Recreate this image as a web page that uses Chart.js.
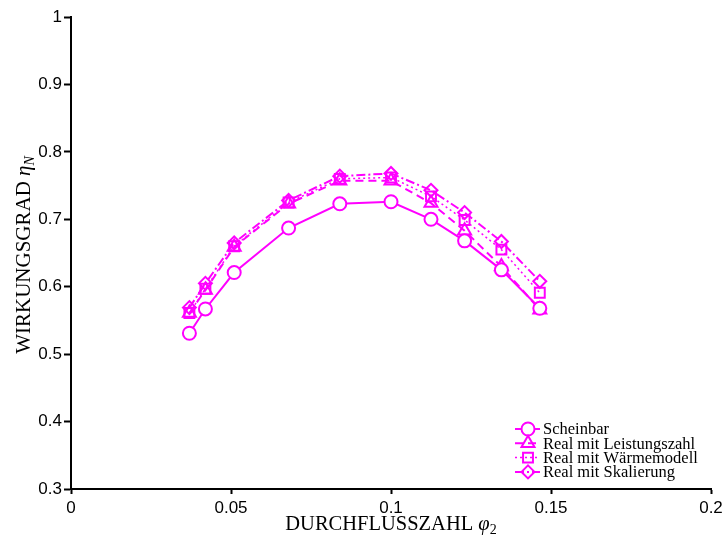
<!DOCTYPE html>
<html>
<head>
<meta charset="utf-8">
<script src="https://cdn.jsdelivr.net/npm/chart.js@4.4.1/dist/chart.umd.min.js"></script>
<style>
  html, body { margin: 0; padding: 0; background: #fff; }
</style>
</head>
<body>
<canvas id="chart" width="728" height="539"></canvas>
<script>
// Durchflusszahl phi_2 (shared by all four curves)
const PHI = [0.037, 0.042, 0.051, 0.068, 0.084, 0.1, 0.1125, 0.123, 0.1345, 0.1465];

// Wirkungsgrad eta_N
const SCHEINBAR     = [0.531, 0.567, 0.621, 0.687, 0.723, 0.726, 0.700, 0.668, 0.625, 0.568];
const LEISTUNGSZAHL = [0.561, 0.595, 0.659, 0.723, 0.757, 0.757, 0.724, 0.683, 0.630, 0.566];
const WAERMEMODELL  = [0.561, 0.597, 0.660, 0.725, 0.760, 0.762, 0.734, 0.699, 0.655, 0.591];
const SKALIERUNG    = [0.569, 0.605, 0.665, 0.728, 0.764, 0.768, 0.743, 0.710, 0.667, 0.608];

const SERIES_LABELS = ['Scheinbar', 'Real mit Leistungszahl', 'Real mit Wärmemodell', 'Real mit Skalierung'];

const X_TICKS = [0, 0.05, 0.1, 0.15, 0.2];
const Y_TICKS = [0.3, 0.4, 0.5, 0.6, 0.7, 0.8, 0.9, 1];

const MAGENTA = '#ff00ff';
const SERIF = '"Liberation Serif", "Times New Roman", serif';
const SANS = '"Liberation Sans", Arial, sans-serif';

const toPoints = (ys) => PHI.map((x, i) => ({ x, y: ys[i] }));

// per-series look: line dash, marker
const STYLES = [
  { dash: [],           width: 2,   point: 'circle',   radius: 6.5, fill: '#fff' },
  { dash: [8, 5],       width: 2,   point: 'triangle', radius: 7.5, fill: 'rgba(0,0,0,0)' },
  { dash: [2, 3],       width: 1.5, point: 'rect',     radius: 7,   fill: 'rgba(0,0,0,0)' },
  { dash: [9, 3, 2, 3], width: 2,   point: 'rectRot',  radius: 6.5, fill: 'rgba(0,0,0,0)' },
];

const datasets = [SCHEINBAR, LEISTUNGSZAHL, WAERMEMODELL, SKALIERUNG].map((ys, i) => ({
  label: SERIES_LABELS[i],
  data: toPoints(ys),
  borderColor: MAGENTA,
  borderWidth: STYLES[i].width,
  borderDash: STYLES[i].dash,
  pointStyle: STYLES[i].point,
  pointRadius: STYLES[i].radius,
  pointBorderWidth: 2,
  pointBorderColor: MAGENTA,
  pointBackgroundColor: STYLES[i].fill,
  tension: 0,
  fill: false,
}));

// same shapes as chart.js uses, for the hand drawn legend
function drawMarker(ctx, style, x, y, r) {
  ctx.beginPath();
  if (style === 'circle') {
    ctx.arc(x, y, r, 0, Math.PI * 2);
  } else if (style === 'triangle') {
    const a = -Math.PI / 2;
    ctx.moveTo(x + Math.cos(a) * r, y + Math.sin(a) * r);
    ctx.lineTo(x + Math.cos(a + 2.0944) * r, y + Math.sin(a + 2.0944) * r);
    ctx.lineTo(x + Math.cos(a + 4.1888) * r, y + Math.sin(a + 4.1888) * r);
    ctx.closePath();
  } else if (style === 'rect') {
    const s = r * Math.SQRT1_2;
    ctx.rect(x - s, y - s, 2 * s, 2 * s);
  } else if (style === 'rectRot') {
    ctx.moveTo(x, y - r); ctx.lineTo(x + r, y); ctx.lineTo(x, y + r); ctx.lineTo(x - r, y);
    ctx.closePath();
  }
}

// text runs (plain, italic symbol, subscript) drawn left to right
function drawRuns(ctx, runs, x, y) {
  let cx = x;
  for (const r of runs) {
    ctx.font = r.font;
    ctx.fillText(r.t, cx, y + (r.dy || 0));
    cx += ctx.measureText(r.t).width;
  }
}
function runsWidth(ctx, runs) {
  let w = 0;
  for (const r of runs) { ctx.font = r.font; w += ctx.measureText(r.t).width; }
  return w;
}

const decorations = {
  id: 'decorations',
  afterDraw(chart) {
    const { ctx, chartArea } = chart;
    ctx.save();
    ctx.fillStyle = '#000';
    ctx.textBaseline = 'alphabetic';
    ctx.textAlign = 'left';

    // x title
    const xRuns = [
      { t: 'DURCHFLUSSZAHL ', font: `20.5px ${SERIF}` },
      { t: 'φ', font: `italic 20.5px ${SERIF}` },
      { t: '2', font: `14px ${SERIF}`, dy: 4 },
    ];
    const xw = runsWidth(ctx, xRuns);
    drawRuns(ctx, xRuns, (chartArea.left + chartArea.right) / 2 - xw / 2, 530);

    // y title, rotated
    const yRuns = [
      { t: 'WIRKUNGSGRAD ', font: `21px ${SERIF}` },
      { t: 'η', font: `italic 21px ${SERIF}` },
      { t: 'N', font: `italic 14px ${SERIF}`, dy: 4 },
    ];
    const yw = runsWidth(ctx, yRuns);
    ctx.save();
    ctx.translate(30, 255);
    ctx.rotate(-Math.PI / 2);
    drawRuns(ctx, yRuns, -yw / 2, 0);
    ctx.restore();

    // legend, bottom right inside the axes
    const lx = 515, tx = 543;
    ctx.font = `16.5px ${SERIF}`;
    ctx.textBaseline = 'middle';
    SERIES_LABELS.forEach((label, i) => {
      const y = 429 + i * 14.3;
      const st = STYLES[i];
      ctx.strokeStyle = MAGENTA;
      ctx.lineWidth = st.width;
      ctx.setLineDash(st.dash);
      ctx.beginPath();
      ctx.moveTo(lx, y); ctx.lineTo(lx + 25, y);
      ctx.stroke();
      ctx.setLineDash([]);
      ctx.lineWidth = 2;
      drawMarker(ctx, st.point, lx + 13, y, st.radius);
      ctx.fillStyle = st.fill;
      ctx.fill();
      ctx.stroke();
      ctx.fillStyle = '#000';
      ctx.fillText(label, tx, y + 1);
    });
    ctx.restore();
  },
};

const tickFmt = (v) => String(Math.round(v * 1000) / 1000);

new Chart(document.getElementById('chart'), {
  type: 'line',
  data: { datasets },
  options: {
    responsive: false,
    animation: false,
    layout: { padding: { top: 17, right: 17, left: 0, bottom: 0 } },
    plugins: { legend: { display: false }, tooltip: { enabled: false } },
    scales: {
      x: {
        type: 'linear',
        min: X_TICKS[0],
        max: X_TICKS[X_TICKS.length - 1],
        afterBuildTicks: (s) => { s.ticks = X_TICKS.map((v) => ({ value: v })); },
        afterFit: (s) => { s.height = 50; },
        ticks: { color: '#000', font: { family: SANS, size: 17 }, padding: 4, maxRotation: 0, autoSkip: false, callback: tickFmt },
        grid: { drawOnChartArea: false, drawTicks: true, tickLength: 5, color: '#000', tickWidth: 2 },
        border: { color: '#000', width: 2 },
      },
      y: {
        type: 'linear',
        min: Y_TICKS[0],
        max: Y_TICKS[Y_TICKS.length - 1],
        afterBuildTicks: (s) => { s.ticks = Y_TICKS.map((v) => ({ value: v })); },
        afterFit: (s) => { s.width = 71; },
        ticks: { color: '#000', font: { family: SANS, size: 17 }, padding: 2, autoSkip: false, callback: tickFmt },
        grid: { drawOnChartArea: false, drawTicks: true, tickLength: 7, color: '#000', tickWidth: 2 },
        border: { color: '#000', width: 2 },
      },
    },
  },
  plugins: [decorations],
});
</script>
</body>
</html>
